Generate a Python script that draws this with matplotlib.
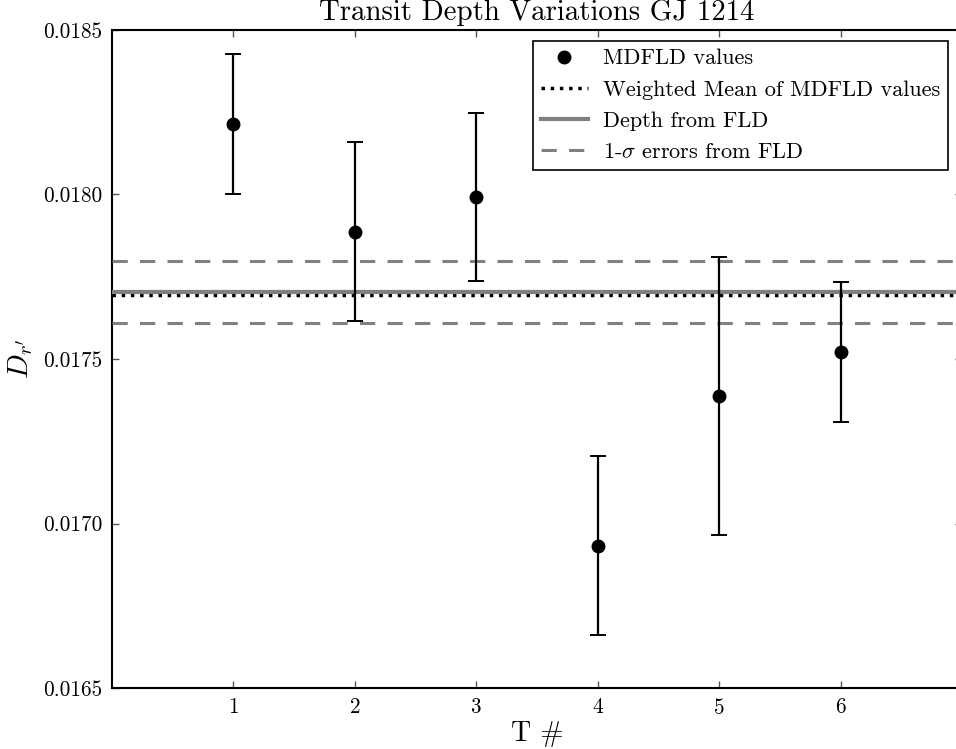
import numpy as np
import matplotlib
matplotlib.use("Agg")
import matplotlib.pyplot as plt

plt.rcParams['font.family'] = 'serif'
plt.rcParams['font.serif'] = ['cmr10']
plt.rcParams['mathtext.fontset'] = 'cm'
plt.rcParams['axes.formatter.use_mathtext'] = True
plt.rcParams['axes.unicode_minus'] = False

# data
transit = [1, 2, 3, 4, 5, 6]
depth = [0.018214, 0.017886, 0.017992, 0.016932, 0.017388, 0.017521]
depth_err = [0.000212, 0.000272, 0.000255, 0.000272, 0.000422, 0.000212]
weighted_mean = 0.017694
fld_depth = 0.017703
fld_lo = 0.017610
fld_hi = 0.017798

fig = plt.figure(figsize=(9.56, 7.49), dpi=100)
ax = fig.add_axes([0.1172, 0.0814, 0.889, 0.8786])

eb = ax.errorbar(transit, depth, yerr=depth_err, fmt='o', color='k', ms=9,
                 elinewidth=1.6, capsize=6, capthick=1.4, label='MDFLD values', zorder=5)
ax.axhline(weighted_mean, color='k', ls=':', lw=2.5, zorder=2,
           label='Weighted Mean of MDFLD values')
ax.axhline(fld_depth, color='gray', ls='-', lw=3, zorder=3, label='Depth from FLD')
ax.axhline(fld_lo, color='gray', ls='--', lw=2.2, dashes=(5, 4), zorder=3,
           label=r'1-$\sigma$ errors from FLD')
ax.axhline(fld_hi, color='gray', ls='--', lw=2.2, dashes=(5, 4), zorder=3)

ax.set_xlim(0, 7)
ax.set_ylim(0.0165, 0.0185)
ax.set_xticks(transit)
ax.set_yticks([0.0165, 0.0170, 0.0175, 0.0180, 0.0185])
ax.yaxis.set_major_formatter(matplotlib.ticker.FormatStrFormatter('%.4f'))
ax.tick_params(direction='in', length=5, width=1, top=True, right=True,
               labelsize=15.3, color='#555555', pad=7)
for s in ax.spines.values():
    s.set_linewidth(1.5)

ax.set_xlabel('T #', fontsize=20, labelpad=2)
ax.set_ylabel(r"$D_{r'}$", fontsize=21, labelpad=6)
ax.set_title('Transit Depth Variations GJ 1214', fontsize=20.8, pad=7)

handles, labels = ax.get_legend_handles_labels()
# errorbar container goes last by default; put the marker-only line first
handles = [eb[0]] + handles[:-1]
labels = [labels[-1]] + labels[:-1]
leg = ax.legend(handles, labels, loc='upper right', fontsize=16, fancybox=False,
                numpoints=1, framealpha=1, edgecolor='k', borderaxespad=0.5,
                handlelength=2.1, handletextpad=0.7, labelspacing=0.52,
                borderpad=0.35, bbox_to_anchor=(0.997, 1.0),
                bbox_transform=ax.transAxes)
leg.get_frame().set_linewidth(1.2)

fig.savefig('out.png', dpi=100)
